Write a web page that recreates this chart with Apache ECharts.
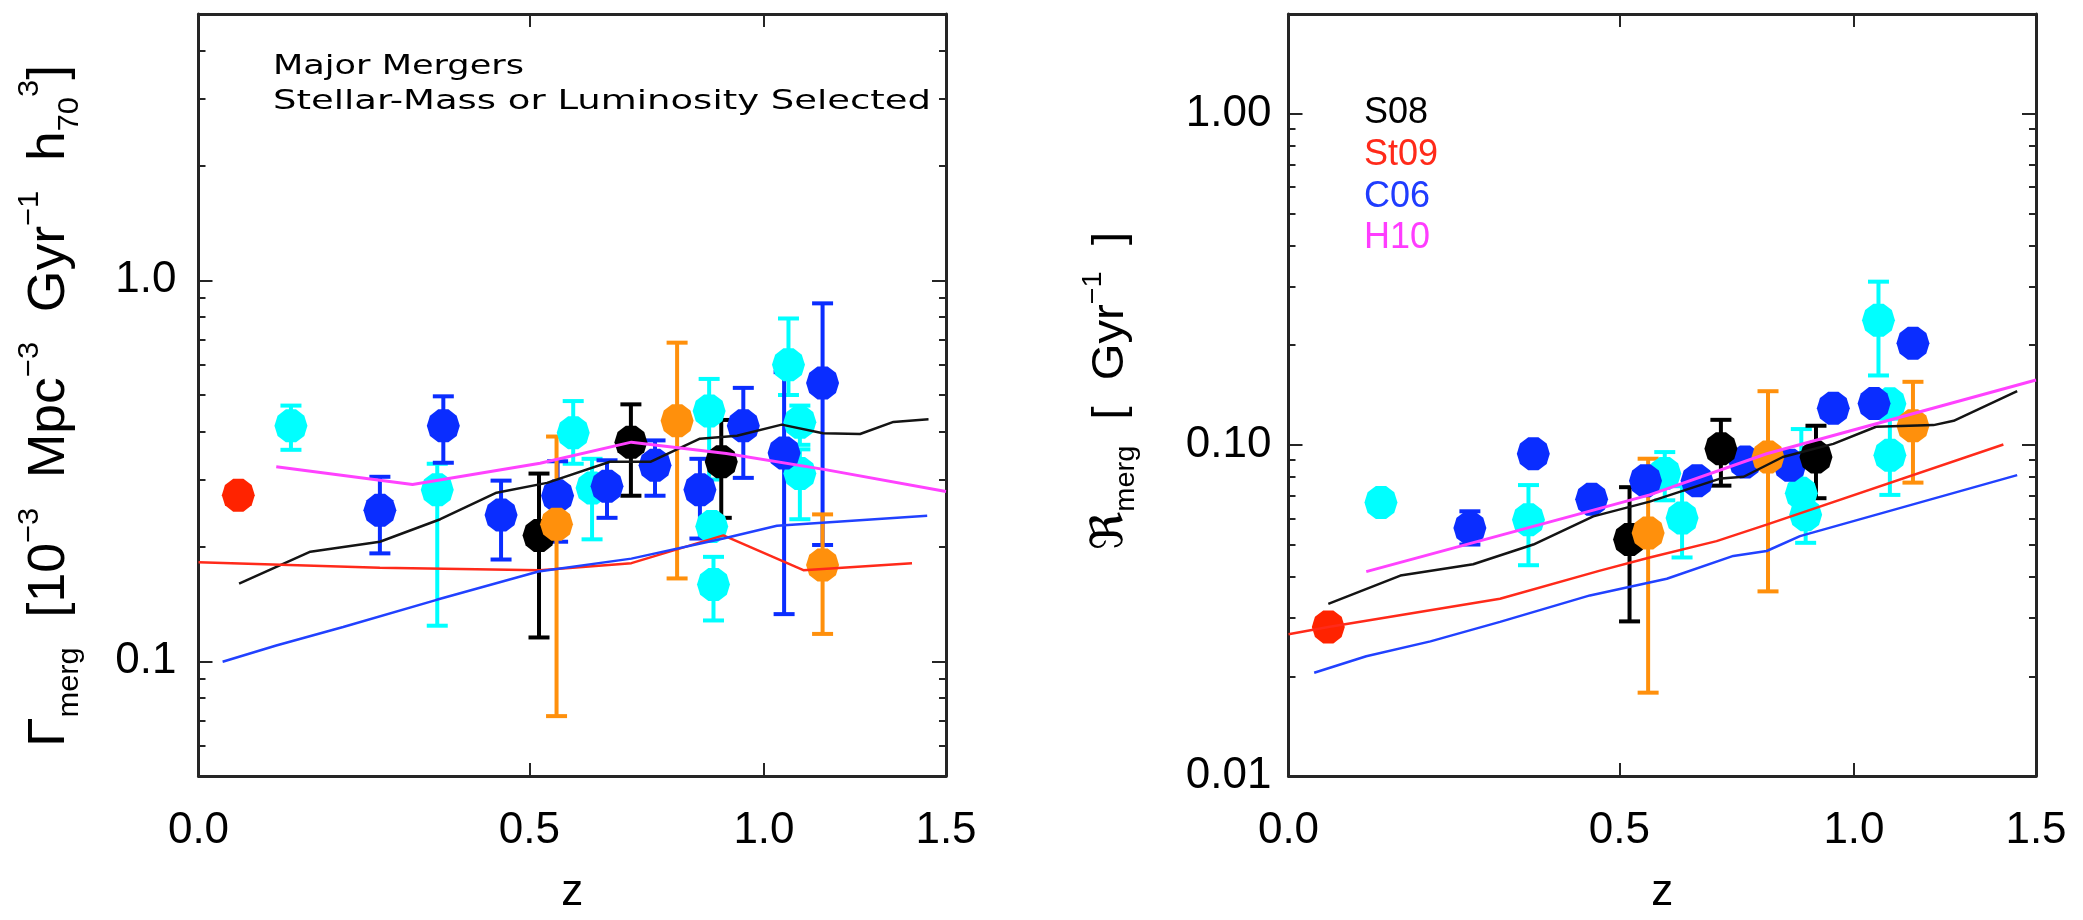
<!DOCTYPE html>
<html>
<head>
<meta charset="utf-8">
<script src="https://cdn.jsdelivr.net/npm/echarts@6/dist/echarts.min.js"></script>
<style>
  html, body { margin: 0; padding: 0; background: #ffffff; }
  #chart { width: 2083px; height: 920px; }
</style>
</head>
<body>
<div id="chart"></div>
<script>
// ---- axis tick labels ----
const zTicks = [0.0, 0.5, 1.0, 1.5];          // redshift labels (axis is log(1+z))
const gammaTicks = [0.1, 1.0];                // left panel labelled ticks
const rateTicks = [0.01, 0.10, 1.00];         // right panel labelled ticks

// ---- volume merger rate Γ_merg : rows are [z, value, lower, upper] ----
const gammaCyan = [
  [0.12, 0.415, 0.359, 0.469],
  [0.34, 0.282, 0.124, 0.33],
  [0.583, 0.398, 0.33, 0.482],
  [0.62, 0.285, 0.209, 0.34],
  [0.87, 0.454, 0.30, 0.551],
  [0.876, 0.226, null, null],
  [0.88, 0.159, 0.128, 0.188],
  [1.061, 0.60, 0.50, 0.794],
  [1.09, 0.424, 0.37, 0.469],
  [1.09, 0.311, 0.236, 0.36]
];
const gammaBlue = [
  [0.249, 0.249, 0.192, 0.305],
  [0.35, 0.415, 0.332, 0.496],
  [0.449, 0.242, 0.185, 0.298],
  [0.553, 0.272, 0.206, 0.335],
  [0.65, 0.288, 0.238, 0.337],
  [0.75, 0.327, 0.272, 0.38],
  [0.849, 0.282, 0.21, 0.34],
  [0.95, 0.415, 0.303, 0.522],
  [1.05, 0.352, 0.133, 0.574],
  [1.149, 0.538, 0.202, 0.87]
];
const gammaBlack = [
  [0.518, 0.214, 0.1155, 0.311],
  [0.699, 0.376, 0.272, 0.4725],
  [0.898, 0.334, 0.238, 0.430]
];
const gammaOrange = [
  [0.551, 0.229, 0.0718, 0.389],
  [0.798, 0.428, 0.165, 0.686],
  [1.149, 0.179, 0.118, 0.243]
];
const gammaRed = [
  [0.05, 0.273, null, null]
];

// ---- model curves for Γ_merg : rows are [z, value] ----
const gammaS08 = [[0.051, 0.16], [0.147, 0.194], [0.249, 0.206], [0.345, 0.236], [0.441, 0.277],
  [0.533, 0.294], [0.656, 0.334], [0.74, 0.334], [0.849, 0.384], [0.935, 0.391], [1.044, 0.418],
  [1.15, 0.397], [1.25, 0.395], [1.344, 0.425], [1.447, 0.432]];
const gammaSt09 = [[0.0, 0.182], [0.249, 0.176], [0.52, 0.1735], [0.70, 0.181], [0.903, 0.214],
  [1.099, 0.1735], [1.398, 0.181]];
const gammaC06 = [[0.03, 0.0997], [0.10, 0.110], [0.194, 0.123], [0.339, 0.145], [0.517, 0.172],
  [0.70, 0.186], [0.903, 0.210], [1.032, 0.227], [1.443, 0.241]];
const gammaH10 = [[0.10, 0.324], [0.30, 0.291], [0.52, 0.331], [0.70, 0.376], [0.91, 0.351],
  [1.16, 0.318], [1.50, 0.279]];

// ---- fractional merger rate ℜ_merg : rows are [z, value, lower, upper] ----
const rateCyan = [
  [0.12, 0.067, null, null],
  [0.342, 0.0594, 0.0433, 0.0756],
  [0.586, 0.0819, 0.068, 0.0951],
  [0.62, 0.0601, 0.0457, 0.075],
  [0.875, 0.0714, 0.06, 0.1116],
  [0.885, 0.0615, 0.0506, 0.072],
  [1.061, 0.2377, 0.162, 0.311],
  [1.09, 0.133, null, null],
  [1.09, 0.093, 0.0706, 0.12]
];
const rateBlue = [
  [0.249, 0.0561, 0.050, 0.063],
  [0.35, 0.094, null, null],
  [0.45, 0.0685, null, null],
  [0.549, 0.0779, null, null],
  [0.65, 0.0779, null, null],
  [0.75, 0.0888, null, null],
  [0.849, 0.0868, null, null],
  [0.95, 0.129, null, null],
  [1.05, 0.1332, null, null],
  [1.15, 0.2026, null, null]
];
const rateBlack = [
  [0.519, 0.0518, 0.0293, 0.0745],
  [0.699, 0.0973, 0.0753, 0.119],
  [0.909, 0.0919, 0.069, 0.1142]
];
const rateOrange = [
  [0.554, 0.0542, 0.01785, 0.0908],
  [0.80, 0.0919, 0.0361, 0.1452],
  [1.15, 0.1142, 0.0769, 0.155]
];
const rateRed = [
  [0.05, 0.0282, null, null]
];

// ---- model curves for ℜ_merg ----
const rateS08 = [[0.05, 0.0331], [0.147, 0.0403], [0.254, 0.0436], [0.35, 0.050], [0.453, 0.0608],
  [0.557, 0.0674], [0.699, 0.0792], [0.747, 0.0801], [0.833, 0.0919], [0.95, 0.1007], [1.055, 0.1134],
  [1.205, 0.1147], [1.26, 0.1182], [1.443, 0.1452]];
const rateSt09 = [[0.0, 0.0268], [0.05, 0.0282], [0.296, 0.0343], [0.465, 0.0417], [0.557, 0.0457],
  [0.69, 0.0512], [0.797, 0.0574], [1.402, 0.1002]];
const rateC06 = [[0.032, 0.0205], [0.10, 0.023], [0.19, 0.0255], [0.296, 0.0292], [0.447, 0.0351],
  [0.59, 0.0394], [0.725, 0.0462], [0.797, 0.0478], [0.872, 0.053], [1.443, 0.081]];
const rateH10 = [[0.10, 0.0414], [0.557, 0.0706], [0.797, 0.094], [1.50, 0.157]];

// ---- styling ----
const FRAME = '#252525';
const TICK_FONT = 'Liberation Sans';
const COL = {
  cyan: '#00ffff', blue: '#0a2dff', black: '#000000', orange: '#ff900c', red: '#ff2300',
  lineBlack: '#141414', lineRed: '#ff2a1a', lineBlue: '#2141ff', lineMagenta: '#ff42ff'
};
// ten-sided plotting symbol: flat top and bottom, pointed at the sides
const DECAGON = 'path://M1,0L0.809,0.588L0.309,0.951L-0.309,0.951L-0.809,0.588L-1,0' +
  'L-0.809,-0.588L-0.309,-0.951L0.309,-0.951L0.809,-0.588Z';

const X_MIN = 1, X_MAX = 2.5;   // 1+z range
const inside = (v, lo, hi) => Math.min(Math.max(v, lo * (1 + 1e-9)), hi * (1 - 1e-9));

function minorDecadeTicks(lo, hi) {
  const out = [];
  for (let e = -3; e <= 1; e++) {
    for (let m = 2; m <= 9; m++) {
      const v = +(m * Math.pow(10, e)).toPrecision(3);
      if (v > lo * 1.0001 && v < hi * 0.9999) out.push(v);
    }
  }
  return out;
}

function xAxesFor(gridIndex) {
  const base = {
    type: 'log', logBase: 10, min: X_MIN, max: X_MAX, gridIndex,
    splitLine: { show: false },
    axisLine: { show: true, onZero: false, lineStyle: { color: FRAME, width: 3 } },
    axisTick: {
      show: true, inside: true, length: 13, lineStyle: { color: FRAME, width: 2 },
      customValues: zTicks.slice(1, -1).map(z => 1 + z)
    }
  };
  return [
    Object.assign({}, base, {
      position: 'bottom',
      name: 'z', nameLocation: 'middle', nameGap: 117,
      nameTextStyle: { fontFamily: TICK_FONT, fontSize: 44, color: '#000', verticalAlign: 'middle' },
      axisLabel: {
        customValues: zTicks.map(z => inside(1 + z, X_MIN, X_MAX)),
        formatter: v => (v - 1).toFixed(1),
        fontFamily: TICK_FONT, fontSize: 44, color: '#000', margin: 33
      }
    }),
    Object.assign({}, base, { position: 'top', axisLabel: { show: false } })
  ];
}

function yAxesFor(gridIndex, yMin, yMax, labelled, digits, margin) {
  const common = {
    type: 'log', logBase: 10, min: yMin, max: yMax, gridIndex,
    splitLine: { show: false }
  };
  const majorTick = {
    show: true, inside: true, length: 14, lineStyle: { color: FRAME, width: 2 },
    customValues: labelled.map(v => inside(v, yMin, yMax))
  };
  const minorTick = {
    show: true, inside: true, length: 7, lineStyle: { color: FRAME, width: 2 },
    customValues: minorDecadeTicks(yMin, yMax)
  };
  return [
    Object.assign({}, common, {
      position: 'left',
      axisLine: { show: true, onZero: false, lineStyle: { color: FRAME, width: 3 } },
      axisTick: majorTick,
      axisLabel: {
        customValues: labelled.map(v => inside(v, yMin, yMax)),
        formatter: v => v.toFixed(digits),
        fontFamily: TICK_FONT, fontSize: 44, color: '#000', margin
      }
    }),
    Object.assign({}, common, {
      position: 'left', axisLine: { show: false }, axisTick: minorTick, axisLabel: { show: false }
    }),
    Object.assign({}, common, {
      position: 'right',
      axisLine: { show: true, onZero: false, lineStyle: { color: FRAME, width: 3 } },
      axisTick: majorTick, axisLabel: { show: false }
    }),
    Object.assign({}, common, {
      position: 'right', axisLine: { show: false }, axisTick: minorTick, axisLabel: { show: false }
    })
  ];
}

function errorBars(rows, color, panel) {
  return {
    type: 'custom', xAxisIndex: 2 * panel, yAxisIndex: 4 * panel, silent: true,
    data: rows.filter(r => r[2] != null).map(r => [1 + r[0], r[1], r[2], r[3]]),
    encode: { x: 0, y: 1 },
    renderItem(params, api) {
      const x = api.value(0);
      const top = api.coord([x, api.value(3)]);
      const bot = api.coord([x, api.value(2)]);
      const half = 10.5;
      const st = { stroke: color, lineWidth: 4 };
      return {
        type: 'group',
        children: [
          { type: 'line', shape: { x1: top[0], y1: top[1], x2: bot[0], y2: bot[1] }, style: st },
          { type: 'line', shape: { x1: top[0] - half, y1: top[1], x2: top[0] + half, y2: top[1] }, style: st },
          { type: 'line', shape: { x1: bot[0] - half, y1: bot[1], x2: bot[0] + half, y2: bot[1] }, style: st }
        ]
      };
    }
  };
}

function points(rows, color, panel) {
  return {
    type: 'scatter', xAxisIndex: 2 * panel, yAxisIndex: 4 * panel, silent: true,
    symbol: DECAGON, symbolSize: 33,
    itemStyle: { color, opacity: 1 },
    data: rows.map(r => [1 + r[0], r[1]])
  };
}

function curve(rows, color, width, panel) {
  return {
    type: 'line', xAxisIndex: 2 * panel, yAxisIndex: 4 * panel, silent: true, z: 5,
    showSymbol: false, symbol: 'none',
    lineStyle: { color, width },
    data: rows.map(r => [1 + r[0], r[1]])
  };
}

function panelSeries(panel, cyan, blue, black, orange, red, s08, st09, c06, h10) {
  return [
    errorBars(cyan, COL.cyan, panel), points(cyan, COL.cyan, panel),
    errorBars(blue, COL.blue, panel), points(blue, COL.blue, panel),
    errorBars(black, COL.black, panel), points(black, COL.black, panel),
    errorBars(orange, COL.orange, panel), points(orange, COL.orange, panel),
    points(red, COL.red, panel),
    curve(s08, COL.lineBlack, 2.5, panel),
    curve(st09, COL.lineRed, 2.5, panel),
    curve(c06, COL.lineBlue, 2.5, panel),
    curve(h10, COL.lineMagenta, 3, panel)
  ];
}

// Measure a rich-text run so a title can be stretched to its span along the axis
const measureCtx = document.createElement('canvas').getContext('2d');
function runWidth(tokens) {
  let w = 0;
  tokens.forEach(([text, size, family]) => {
    measureCtx.font = size + 'px "' + family + '"';
    w += measureCtx.measureText(text).width;
  });
  return w;
}

// Left y title: Γ_merg [10^-3 Mpc^-3 Gyr^-1 h_70^3]
const LF = 'Liberation Sans';
const leftTitleTokens = [
  ['Γ', 52, LF], ['merg', 30, LF], ['  [10', 52, LF], ['−3', 30, LF], ['  Mpc', 52, LF],
  ['−3', 30, LF], ['  Gyr', 52, LF], ['−1', 30, LF], ['  h', 52, LF], ['70', 30, LF],
  ['3', 30, LF], [']', 52, LF]
];
const leftTitleText = '{m|Γ}{sb|merg}{m|  [10}{sp|−3}{m|  Mpc}{sp|−3}{m|  Gyr}{sp|−1}{m|  h}{sb|70}{sp|3}{m|]}';
const leftTitleScale = 682 / runWidth(leftTitleTokens);

// Right y title: ℜ_merg [ Gyr^-1 ]
const rightTitleTokens = [
  ['ℜ', 44, 'DejaVu Sans'], ['merg', 27, LF], ['  [  Gyr', 44, LF], ['−1', 27, LF], ['  ]', 44, LF]
];
const rightTitleText = '{fk|ℜ}{sb|merg}{m|  [  Gyr}{sp|−1}{m|  ]}';
const rightTitleScale = 318 / runWidth(rightTitleTokens);

const noteFont = 'DejaVu Sans';
const note1 = 'Major Mergers';
const note2 = 'Stellar-Mass or Luminosity Selected';
const note1Scale = 251 / runWidth([[note1, 27, noteFont]]);
const note2Scale = 658 / runWidth([[note2, 27, noteFont]]);

const legendEntries = [['S08', COL.black], ['St09', '#ff2a1a'], ['C06', '#1f3cff'], ['H10', '#ff3cff']];

const graphic = [
  {
    type: 'text', x: 50, y: 406, rotation: Math.PI / 2, scaleX: leftTitleScale, silent: true,
    style: {
      text: leftTitleText, align: 'center', verticalAlign: 'middle', fill: '#000',
      rich: {
        m: { fontFamily: LF, fontSize: 52, lineHeight: 70, fill: '#000' },
        sb: { fontFamily: LF, fontSize: 30, lineHeight: 30, verticalAlign: 'bottom', fill: '#000' },
        sp: { fontFamily: LF, fontSize: 30, lineHeight: 30, verticalAlign: 'top', fill: '#000' }
      }
    }
  },
  {
    type: 'text', x: 1110.5, y: 391, rotation: Math.PI / 2, scaleX: rightTitleScale, silent: true,
    style: {
      text: rightTitleText, align: 'center', verticalAlign: 'middle', fill: '#000',
      rich: {
        m: { fontFamily: LF, fontSize: 44, lineHeight: 60, fill: '#000' },
        fk: { fontFamily: 'DejaVu Sans', fontSize: 44, lineHeight: 60, fill: '#000' },
        sb: { fontFamily: LF, fontSize: 27, lineHeight: 27, verticalAlign: 'bottom', fill: '#000' },
        sp: { fontFamily: LF, fontSize: 27, lineHeight: 27, verticalAlign: 'top', fill: '#000' }
      }
    }
  },
  {
    type: 'text', x: 273, y: 67, scaleX: note1Scale, silent: true,
    style: { text: note1, fontFamily: noteFont, fontSize: 27, fill: '#000', align: 'left', verticalAlign: 'middle' }
  },
  {
    type: 'text', x: 273, y: 102, scaleX: note2Scale, silent: true,
    style: { text: note2, fontFamily: noteFont, fontSize: 27, fill: '#000', align: 'left', verticalAlign: 'middle' }
  }
].concat(legendEntries.map(([label, color], i) => ({
  type: 'text', x: 1364, y: 113 + i * 41.8, silent: true,
  style: { text: label, fontFamily: LF, fontSize: 36, fill: color, align: 'left', verticalAlign: 'middle' }
})));

const chart = echarts.init(document.getElementById('chart'), null, { renderer: 'canvas' });
chart.setOption({
  animation: false,
  backgroundColor: '#ffffff',
  grid: [
    { left: 198.5, top: 14, width: 747.5, height: 773 },
    { left: 1288.5, top: 14, width: 747.5, height: 773 }
  ],
  xAxis: xAxesFor(0).concat(xAxesFor(1)),
  yAxis: yAxesFor(0, 0.05, 5, gammaTicks, 1, 22).concat(yAxesFor(1, 0.01, 2, rateTicks, 2, 17)),
  series: panelSeries(0, gammaCyan, gammaBlue, gammaBlack, gammaOrange, gammaRed,
      gammaS08, gammaSt09, gammaC06, gammaH10)
    .concat(panelSeries(1, rateCyan, rateBlue, rateBlack, rateOrange, rateRed,
      rateS08, rateSt09, rateC06, rateH10)),
  graphic
});
</script>
</body>
</html>
